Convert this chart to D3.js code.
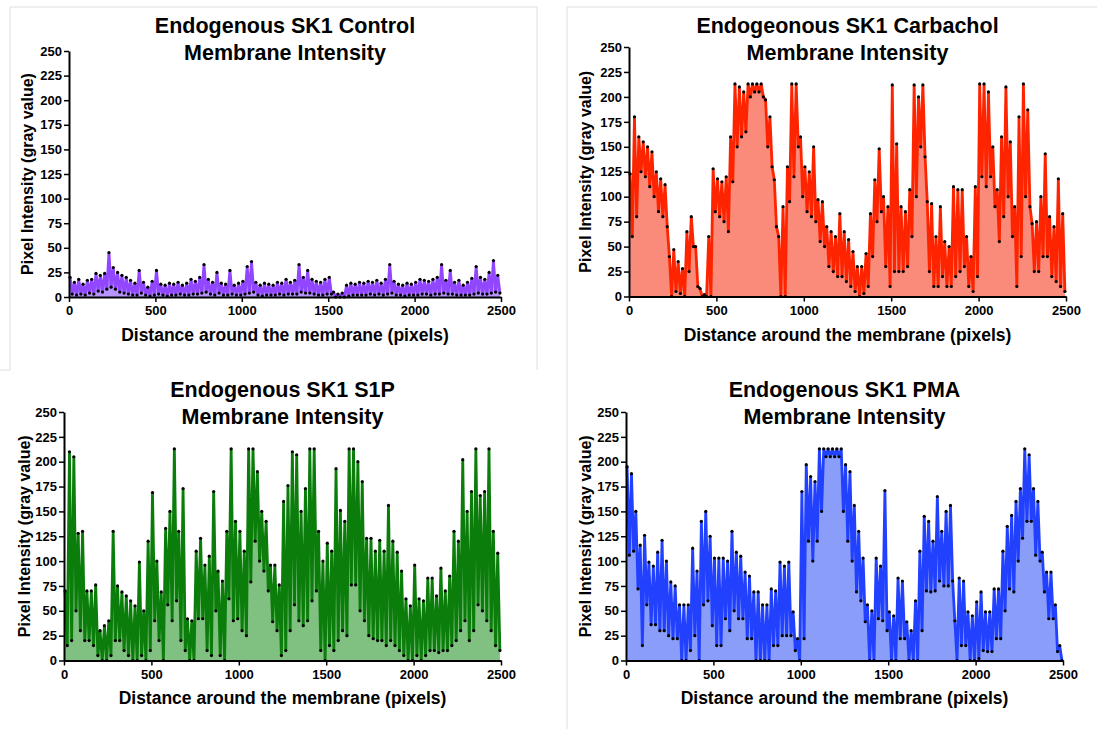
<!DOCTYPE html>
<html lang="en">
<head>
<meta charset="utf-8">
<title>Endogenous SK1 Membrane Intensity</title>
<script src="https://cdn.jsdelivr.net/npm/d3@7"></script>
<style>
  body { margin: 0; background: #fff; }
  svg { display: block; font-family: "Liberation Sans", Arial, sans-serif; }
  .tick text { font-weight: bold; font-size: 13px; fill: #000; }
</style>
</head>
<body>
<script>
// every bin covers 25 pixels along the membrane: peak (hi) and trough (lo) read per bin
var binWidth = 25;
var xTicks = [0, 500, 1000, 1500, 2000, 2500];
var yTicks = [0, 25, 50, 75, 100, 125, 150, 175, 200, 225, 250];

var controlHi = [20,15,18,13,17,18,24,22,24,45,30,25,22,20,17,14,27,15,10,16,27,13,12,14,13,15,12,14,18,16,
  20,33,18,15,25,14,13,27,12,14,16,31,36,15,12,14,13,12,15,14,18,15,17,33,20,27,18,16,15,18,
  20,5,3,4,12,14,13,15,14,16,15,17,14,18,33,16,13,12,14,13,15,18,17,16,18,20,33,17,27,15,
  17,12,15,19,31,20,18,25,37,22];
var controlLo = [3,2,3,2,4,3,6,5,8,10,8,5,4,3,2,2,4,2,1,2,3,2,1,2,2,3,2,2,3,3,
  4,5,3,2,4,2,2,3,2,2,3,4,5,2,1,2,2,2,3,2,3,3,3,5,4,4,3,2,2,3,
  3,0,0,0,1,2,2,2,2,3,2,3,2,3,4,2,2,1,2,2,2,3,3,2,3,3,4,3,3,2,
  2,2,2,3,4,3,3,4,5,4];

var carbHi = [123,180,160,155,150,145,125,118,112,40,47,35,28,65,80,50,8,2,60,128,118,115,120,160,213,210,205,213,213,213,
  213,197,180,117,60,90,130,213,213,160,130,125,150,97,95,70,65,60,83,65,57,45,30,30,43,83,117,148,100,90,
  212,153,90,85,107,212,200,212,95,93,60,90,55,50,110,107,107,60,40,110,213,213,205,150,107,160,210,155,90,180,
  213,187,73,75,100,143,80,70,118,83];
var carbLo = [60,80,125,120,110,100,85,80,70,0,5,3,0,25,50,10,0,0,0,85,80,75,65,115,150,160,165,200,205,205,
  200,150,130,70,0,0,95,120,150,100,85,80,75,55,50,30,25,20,20,15,10,5,0,3,10,40,75,85,30,10,
  25,25,25,30,60,100,150,140,25,10,10,20,10,10,20,25,30,10,5,20,120,110,120,90,55,80,100,60,10,40,
  100,90,25,25,40,40,20,15,10,5];

var s1pHi = [70,210,205,128,130,70,70,76,30,35,40,130,75,69,65,60,55,99,50,120,169,100,69,133,150,213,130,173,42,40,
  110,123,96,105,170,90,80,130,213,140,130,110,213,213,190,150,140,96,96,76,160,176,210,207,150,173,213,213,130,100,
  118,110,193,151,140,213,213,200,180,123,123,110,121,110,156,120,109,90,62,55,96,62,60,83,83,65,93,70,85,130,
  120,202,150,170,213,166,170,213,130,108];
var s1pLo = [15,20,50,30,20,20,15,5,0,0,5,20,20,10,5,0,0,5,0,10,40,20,0,56,40,60,20,10,0,0,
  42,42,10,5,50,5,0,62,40,42,30,25,79,120,100,90,70,39,30,5,10,30,56,40,35,40,60,70,10,0,
  15,10,20,30,25,76,76,50,40,25,22,20,20,15,20,15,10,5,0,0,5,0,5,10,10,8,10,10,15,20,
  30,40,20,30,56,50,40,30,15,10];

var pmaHi = [195,188,150,116,126,99,95,109,121,100,79,75,56,56,56,113,90,140,150,125,103,103,103,100,130,109,105,89,85,69,
  69,56,56,72,70,99,95,99,49,22,170,197,185,180,213,213,213,213,213,213,197,190,156,130,103,56,50,103,95,171,
  49,45,83,80,39,30,60,110,145,140,120,165,130,150,156,40,83,80,49,45,59,69,49,49,72,72,110,135,146,160,
  173,213,207,173,160,109,89,89,56,15];
var pmaLo = [106,110,72,15,56,36,36,30,30,25,22,22,0,0,10,25,0,56,60,35,15,15,42,30,50,42,42,22,22,0,
  0,0,0,15,15,25,25,25,10,0,22,120,100,120,150,205,205,205,205,150,120,100,69,60,39,0,0,42,40,30,
  0,0,22,22,0,0,0,30,70,69,70,80,75,75,80,0,15,15,0,0,2,10,9,9,22,22,50,72,69,100,
  123,140,140,106,100,69,42,42,9,0];

var w = 1097, h = 729;
var svg = d3.select("body").append("svg")
  .attr("width", w)
  .attr("height", h);

// faint frames left over from the pasted screenshots
var frames = [[10, 7, 10, 370], [0, 370, 10, 370], [10, 7, 537, 7], [537, 7, 537, 370],
              [567, 7, 1097, 7], [567, 7, 567, 729]];
svg.selectAll("line.frame")
  .data(frames)
  .enter()
  .append("line")
  .attr("class", "frame")
  .attr("x1", function(d) { return d[0]; })
  .attr("y1", function(d) { return d[1]; })
  .attr("x2", function(d) { return d[2]; })
  .attr("y2", function(d) { return d[3]; })
  .attr("stroke", "#dedede")
  .attr("stroke-width", 1);

var panels = [
  { title: "Endogenous SK1 Control", hi: controlHi, lo: controlLo, line: "#9146ff", fill: "#b794ff",
    left: 69, right: 501, top: 51, bottom: 297, titleY: 33, xLabelY: 341, yLabelX: 33 },
  { title: "Endogeonous SK1 Carbachol", hi: carbHi, lo: carbLo, line: "#ff2400", fill: "#fa8a7a",
    left: 629, right: 1066, top: 47, bottom: 296.5, titleY: 33, xLabelY: 341, yLabelX: 591 },
  { title: "Endogenous SK1 S1P", hi: s1pHi, lo: s1pLo, line: "#0b7d0b", fill: "#80c080",
    left: 64, right: 501, top: 412, bottom: 660.5, titleY: 397, xLabelY: 704, yLabelX: 30 },
  { title: "Endogenous SK1 PMA", hi: pmaHi, lo: pmaLo, line: "#2141ff", fill: "#8a9df8",
    left: 626, right: 1063, top: 412, bottom: 660.5, titleY: 397, xLabelY: 704, yLabelX: 591 }
];

panels.forEach(function(p) {
  var x = d3.scaleLinear().domain([0, 2500]).range([p.left, p.right]);
  var y = d3.scaleLinear().domain([0, 250]).range([p.bottom, p.top]);

  // peak then trough inside each bin
  var pts = [];
  p.hi.forEach(function(v, i) {
    pts.push({ u: i * binWidth + binWidth * 0.25, v: v });
    pts.push({ u: i * binWidth + binWidth * 0.75, v: p.lo[i] });
  });

  var g = svg.append("g");

  g.append("path")
    .datum(pts)
    .attr("fill", p.fill)
    .attr("d", d3.area()
      .x(function(d) { return x(d.u); })
      .y0(y(0))
      .y1(function(d) { return y(d.v); }));

  g.append("path")
    .datum(pts)
    .attr("fill", "none")
    .attr("stroke", p.line)
    .attr("stroke-width", 2.8)
    .attr("stroke-linejoin", "bevel")
    .attr("d", d3.line()
      .x(function(d) { return x(d.u); })
      .y(function(d) { return y(d.v); }));

  g.selectAll("circle")
    .data(pts)
    .enter()
    .append("circle")
    .attr("cx", function(d) { return x(d.u); })
    .attr("cy", function(d) { return y(d.v); })
    .attr("r", 1.6)
    .attr("fill", "#000");

  var xAxis = g.append("g")
    .attr("transform", "translate(0," + p.bottom + ")")
    .call(d3.axisBottom(x).tickValues(xTicks).tickFormat(d3.format("d"))
      .tickSize(5).tickSizeOuter(0).tickPadding(4));
  var yAxis = g.append("g")
    .attr("transform", "translate(" + p.left + ",0)")
    .call(d3.axisLeft(y).tickValues(yTicks).tickSize(5).tickSizeOuter(0).tickPadding(2));
  [xAxis, yAxis].forEach(function(a) {
    a.select(".domain").attr("stroke", "#000").attr("stroke-width", 2);
    a.selectAll(".tick line").attr("stroke", "#000").attr("stroke-width", 1.5);
    a.attr("font-family", null).attr("font-size", null);
  });

  var cx = (p.left + p.right) / 2;
  g.append("text")
    .attr("x", cx)
    .attr("y", p.titleY)
    .attr("text-anchor", "middle")
    .attr("font-weight", "bold")
    .attr("font-size", "21.5px")
    .text(p.title);
  g.append("text")
    .attr("x", cx)
    .attr("y", p.titleY + 27)
    .attr("text-anchor", "middle")
    .attr("font-weight", "bold")
    .attr("font-size", "21.5px")
    .text("Membrane Intensity");

  g.append("text")
    .attr("x", cx)
    .attr("y", p.xLabelY)
    .attr("text-anchor", "middle")
    .attr("font-weight", "bold")
    .attr("font-size", "17.5px")
    .text("Distance around the membrane (pixels)");

  g.append("text")
    .attr("transform", "translate(" + p.yLabelX + "," + (p.top + p.bottom) / 2 + ") rotate(-90)")
    .attr("text-anchor", "middle")
    .attr("font-weight", "bold")
    .attr("font-size", "16px")
    .text("Pixel Intensity (gray value)");
});
</script>
</body>
</html>
